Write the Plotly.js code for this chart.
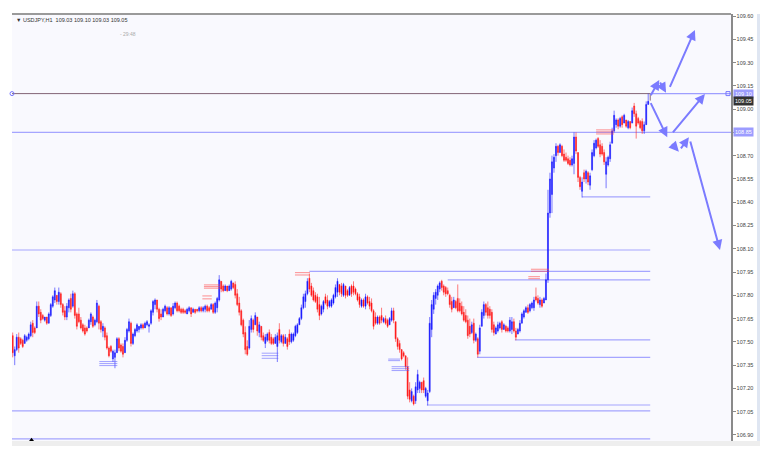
<!DOCTYPE html>
<html><head><meta charset="utf-8">
<script src="https://cdn.plot.ly/plotly-3.0.1.min.js"></script>
<style>html,body{margin:0;padding:0;background:#fff}#chart{width:774px;height:463px}</style>
</head><body><div id="chart"></div><script>
// ---- USDJPY H1 candles ----
const openP = [
107.54,107.41,107.45,107.53,107.52,107.51,107.49,107.51,107.52,107.54,
107.62,107.59,107.59,107.73,107.69,107.67,107.64,107.66,107.62,107.67,
107.73,107.77,107.80,107.76,107.81,107.74,107.70,107.66,107.72,107.78,
107.73,107.81,107.68,107.68,107.64,107.61,107.59,107.59,107.59,107.63,
107.66,107.61,107.63,107.73,107.63,107.57,107.59,107.54,107.46,107.47,
107.39,107.40,107.43,107.52,107.48,107.47,107.43,107.51,107.57,107.62,
107.49,107.54,107.57,107.58,107.59,107.61,107.59,107.61,107.60,107.62,
107.69,107.74,107.77,107.71,107.68,107.66,107.70,107.72,107.68,107.72,
107.68,107.72,107.75,107.73,107.71,107.71,107.70,107.68,107.70,107.72,
107.69,107.71,107.71,107.70,107.72,107.70,107.71,107.73,107.72,107.71,
107.74,107.69,107.72,107.77,107.89,107.86,107.83,107.86,107.83,107.84,
107.88,107.87,107.81,107.75,107.70,107.64,107.56,107.47,107.46,107.58,
107.64,107.61,107.66,107.56,107.60,107.54,107.49,107.51,107.56,107.53,
107.52,107.49,107.47,107.58,107.50,107.54,107.49,107.52,107.55,107.50,
107.51,107.54,107.56,107.61,107.65,107.72,107.76,107.81,107.91,107.86,
107.83,107.80,107.79,107.74,107.68,107.71,107.79,107.77,107.73,107.73,
107.75,107.79,107.82,107.87,107.86,107.80,107.86,107.83,107.80,107.86,
107.86,107.84,107.81,107.79,107.73,107.77,107.73,107.79,107.76,107.75,
107.70,107.66,107.62,107.66,107.67,107.63,107.65,107.64,107.61,107.64,
107.70,107.63,107.52,107.49,107.45,107.43,107.41,107.34,107.19,107.12,
107.15,107.12,107.19,107.20,107.24,107.25,107.15,107.12,107.18,107.58,
107.71,107.78,107.80,107.84,107.89,107.86,107.85,107.83,107.80,107.76,
107.72,107.76,107.78,107.75,107.73,107.69,107.67,107.64,107.60,107.56,
107.62,107.51,107.52,107.44,107.60,107.67,107.74,107.72,107.71,107.69,
107.61,107.55,107.57,107.59,107.63,107.58,107.60,107.59,107.57,107.58,
107.63,107.57,107.55,107.57,107.62,107.66,107.69,107.72,107.70,107.72,
107.72,107.79,107.78,107.74,107.77,107.75,107.77,107.90,108.33,108.45,
108.62,108.70,108.76,108.72,108.76,108.71,108.69,108.68,108.67,108.64,
108.65,108.82,108.72,108.56,108.47,108.59,108.55,108.59,108.51,108.61,
108.70,108.75,108.81,108.77,108.76,108.72,108.58,108.64,108.68,108.78,
108.86,108.90,108.93,108.89,108.95,108.91,108.93,108.88,108.92,108.91,
109.02,108.97,108.94,108.92,108.92,108.86,108.90,109.03];
const highP = [
107.56,107.47,107.55,107.56,107.53,107.52,107.55,107.54,107.56,107.63,
107.64,107.60,107.76,107.76,107.71,107.68,107.66,107.66,107.69,107.75,
107.80,107.85,107.80,107.85,107.82,107.75,107.73,107.75,107.78,107.81,
107.83,107.82,107.69,107.72,107.66,107.62,107.61,107.60,107.65,107.69,
107.67,107.65,107.77,107.74,107.64,107.62,107.60,107.56,107.47,107.48,
107.45,107.45,107.53,107.53,107.49,107.49,107.53,107.59,107.65,107.63,
107.56,107.59,107.62,107.60,107.62,107.62,107.63,107.64,107.62,107.71,
107.77,107.78,107.77,107.72,107.71,107.72,107.74,107.73,107.73,107.72,
107.75,107.76,107.76,107.74,107.72,107.72,107.71,107.72,107.73,107.72,
107.72,107.71,107.71,107.73,107.73,107.73,107.74,107.74,107.73,107.75,
107.75,107.76,107.79,107.93,107.89,107.87,107.87,107.86,107.87,107.90,
107.88,107.89,107.84,107.79,107.71,107.65,107.60,107.51,107.64,107.67,
107.65,107.69,107.66,107.63,107.60,107.56,107.55,107.56,107.58,107.55,
107.53,107.55,107.56,107.62,107.55,107.55,107.55,107.53,107.58,107.56,
107.56,107.61,107.62,107.66,107.74,107.81,107.83,107.91,107.94,107.88,
107.85,107.82,107.81,107.79,107.74,107.77,107.81,107.80,107.77,107.78,
107.81,107.87,107.91,107.87,107.88,107.88,107.86,107.84,107.86,107.87,
107.89,107.85,107.82,107.81,107.78,107.78,107.81,107.80,107.79,107.78,
107.71,107.69,107.67,107.67,107.72,107.66,107.67,107.65,107.66,107.72,
107.72,107.63,107.53,107.51,107.45,107.44,107.41,107.40,107.24,107.20,
107.16,107.24,107.32,107.25,107.24,107.27,107.21,107.19,107.66,107.77,
107.82,107.84,107.87,107.89,107.90,107.87,107.86,107.85,107.81,107.79,
107.79,107.77,107.87,107.78,107.76,107.73,107.71,107.67,107.65,107.63,
107.65,107.56,107.53,107.61,107.71,107.76,107.75,107.76,107.73,107.71,
107.63,107.60,107.63,107.63,107.64,107.62,107.61,107.60,107.66,107.66,
107.65,107.59,107.59,107.64,107.69,107.71,107.73,107.74,107.75,107.76,
107.79,107.85,107.80,107.79,107.78,107.79,107.94,108.48,108.59,108.70,
108.71,108.78,108.77,108.78,108.77,108.74,108.72,108.70,108.69,108.70,
108.85,108.85,108.72,108.57,108.56,108.61,108.61,108.60,108.59,108.74,
108.80,108.81,108.82,108.80,108.78,108.74,108.69,108.70,108.79,108.88,
108.99,108.94,108.94,108.95,108.96,108.97,108.93,108.93,108.92,109.01,
109.04,108.99,108.95,108.93,108.94,108.92,109.05,109.10];
const lowP = [
107.40,107.35,107.44,107.43,107.48,107.46,107.49,107.50,107.51,107.53,
107.53,107.55,107.59,107.66,107.62,107.64,107.63,107.61,107.62,107.66,
107.72,107.75,107.74,107.74,107.72,107.67,107.64,107.64,107.69,107.69,
107.72,107.65,107.58,107.62,107.58,107.56,107.54,107.56,107.59,107.61,
107.59,107.60,107.62,107.58,107.56,107.53,107.51,107.45,107.40,107.43,
107.37,107.33,107.43,107.44,107.43,107.40,107.43,107.50,107.56,107.47,
107.48,107.53,107.56,107.56,107.58,107.58,107.59,107.60,107.56,107.61,
107.67,107.71,107.69,107.63,107.64,107.66,107.69,107.67,107.67,107.66,
107.67,107.71,107.69,107.69,107.68,107.68,107.68,107.68,107.69,107.66,
107.69,107.68,107.69,107.69,107.69,107.69,107.69,107.69,107.69,107.71,
107.68,107.68,107.69,107.76,107.82,107.82,107.83,107.82,107.83,107.83,
107.84,107.78,107.73,107.67,107.60,107.53,107.42,107.41,107.45,107.56,
107.56,107.61,107.54,107.53,107.51,107.50,107.46,107.50,107.49,107.48,
107.48,107.49,107.37,107.49,107.49,107.47,107.49,107.45,107.48,107.49,
107.50,107.53,107.55,107.61,107.64,107.71,107.72,107.80,107.82,107.79,
107.76,107.75,107.69,107.64,107.67,107.69,107.74,107.71,107.72,107.72,
107.74,107.78,107.79,107.80,107.79,107.79,107.78,107.79,107.80,107.79,
107.80,107.80,107.76,107.72,107.72,107.72,107.71,107.74,107.71,107.69,
107.58,107.61,107.61,107.61,107.62,107.62,107.61,107.59,107.61,107.63,
107.62,107.50,107.45,107.43,107.38,107.40,107.32,107.13,107.11,107.11,
107.09,107.10,107.17,107.17,107.17,107.17,107.14,107.09,107.17,107.53,
107.68,107.74,107.77,107.82,107.83,107.80,107.79,107.80,107.72,107.69,
107.72,107.71,107.69,107.69,107.67,107.63,107.62,107.52,107.53,107.55,
107.49,107.50,107.40,107.42,107.60,107.65,107.67,107.65,107.65,107.56,
107.54,107.55,107.56,107.58,107.56,107.58,107.56,107.56,107.56,107.55,
107.56,107.51,107.55,107.56,107.62,107.65,107.69,107.68,107.69,107.71,
107.70,107.76,107.74,107.72,107.72,107.75,107.77,107.88,108.30,108.33,
108.59,108.66,108.70,108.72,108.69,108.66,108.66,108.64,108.63,108.63,
108.58,108.71,108.53,108.48,108.43,108.53,108.52,108.51,108.48,108.60,
108.69,108.74,108.75,108.69,108.70,108.64,108.49,108.63,108.66,108.78,
108.85,108.88,108.87,108.88,108.88,108.91,108.88,108.87,108.87,108.91,
108.95,108.81,108.90,108.87,108.84,108.84,108.90,109.03];
const closeP = [
107.43,107.45,107.53,107.46,107.49,107.47,107.54,107.53,107.55,107.61,
107.56,107.56,107.73,107.68,107.64,107.65,107.66,107.62,107.68,107.74,
107.79,107.83,107.76,107.82,107.74,107.69,107.66,107.73,107.77,107.71,
107.81,107.67,107.60,107.63,107.59,107.57,107.55,107.57,107.64,107.68,
107.60,107.64,107.75,107.62,107.58,107.60,107.53,107.46,107.41,107.44,
107.44,107.43,107.52,107.46,107.44,107.42,107.51,107.58,107.63,107.49,
107.55,107.58,107.61,107.60,107.61,107.59,107.62,107.63,107.61,107.70,
107.76,107.77,107.71,107.65,107.66,107.71,107.73,107.68,107.72,107.67,
107.73,107.75,107.70,107.70,107.69,107.69,107.69,107.71,107.72,107.68,
107.71,107.69,107.70,107.72,107.70,107.72,107.73,107.70,107.70,107.74,
107.69,107.75,107.78,107.90,107.84,107.83,107.86,107.83,107.86,107.89,
107.85,107.80,107.74,107.69,107.61,107.55,107.45,107.42,107.60,107.65,
107.58,107.67,107.57,107.61,107.53,107.51,107.53,107.55,107.51,107.49,
107.49,107.53,107.54,107.51,107.54,107.49,107.53,107.47,107.50,107.55,
107.55,107.60,107.61,107.65,107.72,107.79,107.81,107.89,107.84,107.80,
107.77,107.76,107.71,107.67,107.73,107.76,107.75,107.73,107.76,107.77,
107.80,107.85,107.89,107.82,107.81,107.87,107.80,107.80,107.85,107.81,
107.82,107.81,107.77,107.74,107.77,107.73,107.79,107.75,107.73,107.70,
107.60,107.62,107.66,107.62,107.64,107.65,107.62,107.60,107.65,107.70,
107.64,107.52,107.47,107.45,107.39,107.41,107.34,107.15,107.13,107.18,
107.10,107.21,107.29,107.24,107.19,107.19,107.20,107.17,107.62,107.74,
107.80,107.82,107.86,107.88,107.85,107.82,107.81,107.81,107.74,107.71,
107.77,107.72,107.70,107.70,107.68,107.64,107.63,107.54,107.55,107.61,
107.51,107.55,107.42,107.59,107.69,107.74,107.69,107.67,107.67,107.58,
107.56,107.59,107.61,107.62,107.58,107.61,107.57,107.57,107.64,107.63,
107.57,107.53,107.58,107.62,107.68,107.70,107.72,107.69,107.74,107.75,
107.77,107.77,107.75,107.77,107.73,107.78,107.90,108.33,108.55,108.66,
108.69,108.76,108.72,108.77,108.70,108.67,108.67,108.65,108.64,108.68,
108.82,108.73,108.56,108.50,108.53,108.55,108.60,108.53,108.57,108.72,
108.78,108.80,108.76,108.71,108.71,108.66,108.66,108.69,108.77,108.86,
108.96,108.93,108.89,108.94,108.90,108.96,108.89,108.92,108.88,108.99,
108.97,108.89,108.91,108.88,108.86,108.90,109.03,109.05];

// price axis labels
const yTicks = [109.60,109.45,109.30,109.15,109.00,108.85,108.70,108.55,108.40,108.25,
                108.10,107.95,107.80,107.65,107.50,107.35,107.20,107.05,106.90];

// horizontal levels: price, first bar, last bar
const levelPrice = [108.85, 108.434, 108.092, 107.954, 107.899, 107.513, 107.400, 107.093, 107.055, 106.875];
const levelFrom  = [-0.35,  284,     -0.35,   148,     217,     250.5,   231.6,   206.6,   -0.35,   -0.35];
const levelTo    = [358.3,  318,     318,     318,     318,     318,     318,     318,     318,     318];
const resistPrice = 109.10;

// forecast arrows: [fromBar, fromPrice, toBar, toPrice]
const arrows = [
  [317.9,109.080, 322.5,109.188],
  [322.5,109.181, 325.9,109.106],
  [327.5,109.134, 340.3,109.510],
  [317.9,109.048, 326.5,108.819],
  [328.7,108.840, 345.3,109.098],
  [328.2,108.784, 332.3,108.726],
  [332.8,108.737, 337.3,108.819],
  [337.8,108.801, 352.8,108.092]
];

// small trade marks: [fromBar, toBar, price]
const sellMarks = [
  [95.4,103.4,107.867],[95.4,103.4,107.856],[95.4,103.4,107.846],
  [94.6,99.3,107.796],[94.6,99.3,107.777],
  [140.8,148.3,107.946],[140.8,148.3,107.931],
  [258.5,267.5,107.968],[258.5,267.5,107.955],
  [257.2,263,107.920],[257.2,263,107.907],
  [291,300,108.866],[291,300,108.853],[291,300,108.840]
];
const buyMarks = [
  [43.2,52.2,107.373],[43.2,52.2,107.360],[43.2,52.2,107.347],
  [124.2,132.5,107.427],[124.2,132.5,107.411],[124.2,132.5,107.394],
  [187.3,193.2,107.389],[187.3,193.2,107.379],
  [189,197.8,107.340],[189,197.8,107.327],[189,197.8,107.315]
];

// price labels that sit on highlighted boxes (their plain tick text is hidden)
const boxedTicks = [108.85];

const barIdx = openP.map((_, i) => i);

const traces = [{
  type: 'candlestick', x: barIdx, open: openP, high: highP, low: lowP, close: closeP,
  increasing: {line: {color: 'rgba(30,30,255,0.65)', width: 0.9}, fillcolor: '#0000ff'},
  decreasing: {line: {color: 'rgba(255,30,30,0.65)', width: 0.9}, fillcolor: '#ff0000'},
  whiskerwidth: 0, hoverinfo: 'skip', showlegend: false
}];

function markTrace(list, color) {
  const xs = [], ys = [];
  list.forEach(m => { xs.push(m[0], m[1], null); ys.push(m[2], m[2], null); });
  return {type: 'scatter', mode: 'lines', x: xs, y: ys, line: {color: color, width: 1},
          hoverinfo: 'skip', showlegend: false};
}
traces.push(markTrace(sellMarks, 'rgba(255,70,70,0.6)'));
traces.push(markTrace(buyMarks, 'rgba(90,90,255,0.55)'));
// end points of the resistance line
traces.push({type: 'scatter', mode: 'markers', x: [-0.35, 356.8], y: [resistPrice, resistPrice],
  marker: {symbol: ['circle-open', 'square-open'], size: 4, color: '#7878ff', line: {width: 1, color: '#7878ff'}},
  cliponaxis: false, hoverinfo: 'skip', showlegend: false});
traces.push({type: 'scatter', mode: 'markers', x: [9.4], y: [106.866],
  marker: {symbol: 'triangle-up', size: 5, color: '#000'}, cliponaxis: false,
  hoverinfo: 'skip', showlegend: false});

const shapes = [];
levelPrice.forEach((p, i) => {
  shapes.push({type: 'line', xref: 'x', yref: 'y', x0: levelFrom[i], x1: levelTo[i], y0: p, y1: p,
    line: {color: 'rgba(120,120,255,0.65)', width: 1.2}, layer: 'below'});
});
shapes.push({type: 'line', xref: 'x', yref: 'y', x0: -0.35, x1: 318, y0: resistPrice, y1: resistPrice,
  line: {color: '#836577', width: 1}, layer: 'below'});
shapes.push({type: 'line', xref: 'x', yref: 'y', x0: 318, x1: 358.3, y0: resistPrice, y1: resistPrice,
  line: {color: 'rgba(120,120,255,0.7)', width: 1.2}, layer: 'below'});
shapes.push({type: 'line', xref: 'x', yref: 'y', x0: 318, x1: 318, y0: resistPrice, y1: 109.055,
  line: {color: '#836577', width: 1}, layer: 'below'});
// frame pieces
shapes.push({type: 'line', xref: 'paper', yref: 'paper', x0: 0, x1: 1, y0: 1, y1: 1,
  line: {color: '#9a9a9a', width: 2}});
shapes.push({type: 'rect', xref: 'paper', yref: 'paper', x0: 1.0362, x1: 1.0403, y0: 0, y1: 1,
  fillcolor: '#dfe6f2', line: {width: 0}});
shapes.push({type: 'rect', xref: 'paper', yref: 'paper', x0: 0, x1: 1.0403, y0: -0.0117, y1: 0,
  fillcolor: '#eeeeee', line: {width: 0}});

const annotations = arrows.map(a => ({
  xref: 'x', yref: 'y', axref: 'x', ayref: 'y', x: a[2], y: a[3], ax: a[0], ay: a[1],
  text: '', showarrow: true, arrowhead: 2, arrowsize: 1, arrowwidth: 2, arrowcolor: '#7b7bff'
}));
const lbl = (txt, y, bg, fg) => ({xref: 'paper', yref: 'y', x: 1, y: y, xanchor: 'left', yanchor: 'middle',
  xshift: 2, text: txt, showarrow: false, bgcolor: bg, borderpad: 1,
  font: {family: 'Liberation Sans, Arial, sans-serif', size: 5.5, color: fg}});
annotations.push(lbl('109.10', 109.10, '#9c9cff', '#ffffff'));
annotations.push(lbl('109.05', 109.05, '#333333', '#ffffff'));
annotations.push(lbl('108.85', 108.85, '#9c9cff', '#ffffff'));
annotations.push({xref: 'paper', yref: 'paper', x: 0.003, y: 0.986, xanchor: 'left', yanchor: 'middle',
  text: '▼ USDJPY,H1  109.03 109.10 109.03 109.05', showarrow: false,
  font: {family: 'Liberation Sans, Arial, sans-serif', size: 5.5, color: '#333'}});
annotations.push({xref: 'paper', yref: 'paper', x: 0.147, y: 0.953, xanchor: 'left', yanchor: 'middle',
  text: '- 29:48', showarrow: false,
  font: {family: 'Liberation Sans, Arial, sans-serif', size: 5, color: '#aaa'}});

const layout = {
  width: 774, height: 463,
  margin: {l: 12, r: 43, t: 14, b: 22, pad: 0},
  paper_bgcolor: '#ffffff', plot_bgcolor: '#f9f9fe',
  showlegend: false, hovermode: false,
  xaxis: {range: [-0.35, 358.3], showticklabels: false, showgrid: false, zeroline: false,
          showline: false, ticks: '', rangeslider: {visible: false}, fixedrange: true},
  yaxis: {side: 'right', range: [106.861, 109.613], tickvals: yTicks,
          ticktext: yTicks.map(v => boxedTicks.includes(v) ? '' : v.toFixed(2)), showgrid: false, zeroline: false,
          showline: true, linecolor: '#8a8a8a', linewidth: 1.5, ticks: 'outside', ticklen: 3,
          tickcolor: '#8a8a8a', tickfont: {family: 'Liberation Sans, Arial, sans-serif', size: 5.5, color: '#444'},
          fixedrange: true},
  shapes: shapes, annotations: annotations
};
Plotly.newPlot('chart', traces, layout, {staticPlot: true, displayModeBar: false});
</script></body></html>
